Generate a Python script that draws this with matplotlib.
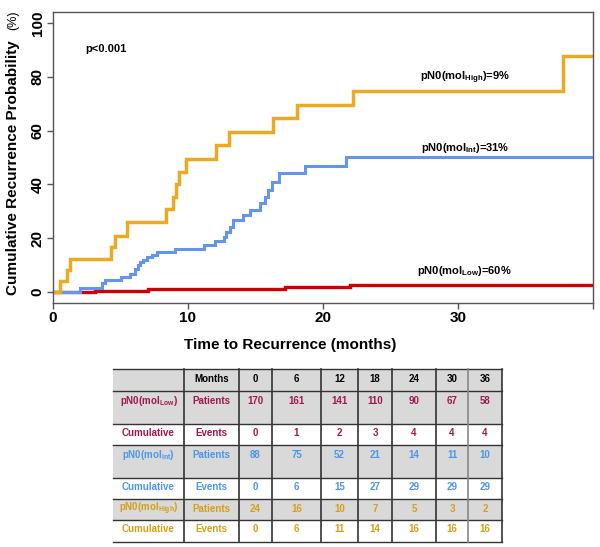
import numpy as np
import matplotlib.pyplot as plt
from matplotlib.patches import Rectangle

plt.rcParams.update({
    'font.family': ['Liberation Sans', 'DejaVu Sans'],
    'font.weight': 'bold',
    'mathtext.fontset': 'custom',
    'mathtext.rm': 'Liberation Sans',
    'axes.linewidth': 1.0,
})

# ---------- curve data (months, cumulative recurrence %) ----------
high_t = [0, 0.5, 1.0, 1.25, 4.3, 4.6, 5.5, 8.4, 8.9, 9.1, 9.35, 9.85,
          12.1, 13.0, 16.3, 18.1, 22.2, 37.8]
high_v = [0, 4.2, 8.3, 12.5, 16.7, 21.0, 26.0, 31.0, 35.5, 40.0, 44.5, 49.5,
          54.5, 59.5, 64.5, 69.5, 74.5, 87.5]

int_t = [0, 2.0, 3.6, 3.85, 5.0, 5.7, 6.07, 6.3, 6.45, 6.7, 6.95, 7.3, 7.7,
         9.0, 11.2, 12.0, 12.7, 12.85, 13.1, 13.35, 14.1, 14.6, 15.3, 15.7,
         15.95, 16.2, 16.75, 18.7, 21.7]
int_v = [0, 1.7, 3.4, 4.7, 5.7, 6.9, 8.8, 10.0, 11.2, 12.1, 13.1, 14.0, 15.0,
         16.2, 17.5, 19.0, 20.5, 22.3, 24.2, 26.7, 28.8, 30.6, 33.0, 35.3,
         37.8, 40.9, 44.2, 46.8, 50.3]

low_t = [0, 3.1, 7.0, 17.2, 22.0]
low_v = [0, 0.6, 1.2, 1.9, 2.7]

followup_end = 40

# ---------- risk table data ----------
months = [0, 6, 12, 18, 24, 30, 36]
low_patients = [170, 161, 141, 110, 90, 67, 58]
low_events = [0, 1, 2, 3, 4, 4, 4]
int_patients = [88, 75, 52, 21, 14, 11, 10]
int_events = [0, 6, 15, 27, 29, 29, 29]
high_patients = [24, 16, 10, 7, 5, 3, 2]
high_events = [0, 6, 11, 14, 16, 16, 16]

C_HIGH = '#EBAA22'
C_INT = '#6495ED'
C_LOW = '#CC0000'
T_LOW = '#A01850'
T_INT = '#4A97E8'
T_HIGH = '#D4A017'

W, H = 600, 547
fig = plt.figure(figsize=(W / 100, H / 100), dpi=100)

# ---------- KM plot ----------
ax = fig.add_axes([53 / W, 1 - 303 / H, 540 / W, 291 / H])


def km(t, v, color, lw):
    tt = np.append(t, followup_end)
    vv = np.append(v, v[-1])
    ax.step(tt, vv, where='post', color=color, lw=lw, solid_joinstyle='miter')


km(low_t, low_v, C_LOW, 2.4)
km(int_t, int_v, C_INT, 2.2)
km(high_t, high_v, C_HIGH, 2.5)

ax.set_xlim(0, 40)
ax.set_ylim(-4, 104)
ax.set_xticks([0, 10, 20, 30, 40])
ax.set_xticklabels(['0', '10', '20', '30', ''])
ax.set_yticks([0, 20, 40, 60, 80, 100])
for s in ax.spines.values():
    s.set_color('#555555')
ax.tick_params(length=4, width=1, color='#555555', labelsize=11, pad=2)
for lab in ax.get_yticklabels():
    lab.set_rotation(90)
    lab.set_va('center')
    lab.set_fontweight('bold')
for lab in ax.get_xticklabels():
    lab.set_fontweight('bold')

ax.text(2.4, 90.4, 'p<0.001', fontsize=8, va='center', ha='left')
ax.text(30.5, 79.6, r'pN0(mol$_{\mathrm{High}}$)=9%', fontsize=8, ha='center', va='center')
ax.text(30.5, 53.7, r'pN0(mol$_{\mathrm{Int}}$)=31%', fontsize=8, ha='center', va='center')
ax.text(30.5, 7.8, r'pN0(mol$_{\mathrm{Low}}$)=60%', fontsize=8, ha='center', va='center')

fig.text(13 / W, 1 - 168 / H, 'Cumulative Recurrence Probability', rotation=90,
         fontsize=11, ha='center', va='center')
fig.text(13 / W, 1 - 20 / H, '(%)', rotation=90, fontsize=9, fontweight='normal',
         ha='center', va='center')
fig.text(290 / W, 1 - 345 / H, 'Time to Recurrence (months)', fontsize=11,
         ha='center', va='center')

# ---------- risk table ----------
tx = fig.add_axes([0, 0, 1, 1], zorder=-1)
tx.set_xlim(0, W)
tx.set_ylim(H, 0)
tx.axis('off')

col_edges = [113, 184, 239, 272, 321, 358, 392, 436, 468, 502]
row_edges = [369, 391, 424, 445, 478, 499, 520, 542]

rows = [
    ('', 'Months', months, 'black', '#D9D9D9'),
    (r'pN0(mol$_{\mathrm{Low}}$)', 'Patients', low_patients, T_LOW, '#D9D9D9'),
    ('Cumulative', 'Events', low_events, T_LOW, 'white'),
    (r'pN0(mol$_{\mathrm{Int}}$)', 'Patients', int_patients, T_INT, '#D9D9D9'),
    ('Cumulative', 'Events', int_events, T_INT, 'white'),
    (r'pN0(mol$_{\mathrm{High}}$)', 'Patients', high_patients, T_HIGH, '#D9D9D9'),
    ('Cumulative', 'Events', high_events, T_HIGH, 'white'),
]

for i, (lab, sub, vals, col, fill) in enumerate(rows):
    y0, y1 = row_edges[i], row_edges[i + 1]
    tx.add_patch(Rectangle((col_edges[0], y0), col_edges[-1] - col_edges[0], y1 - y0,
                           facecolor=fill, edgecolor='none'))
    ty = y0 + 9.5
    cells = [lab, sub] + [str(v) for v in vals]
    for j, txt in enumerate(cells):
        xc = (col_edges[j] + col_edges[j + 1]) / 2
        tx.text(xc, ty, txt, color=col if i > 0 else 'black', fontsize=7,
                ha='center', va='center')

for y in row_edges:
    tx.plot([col_edges[0], col_edges[-1]], [y, y], color='#333333', lw=1)
for k, x in enumerate(col_edges[1:]):
    c = '#888888' if k == len(col_edges) - 3 else '#333333'
    tx.plot([x, x], [row_edges[0], row_edges[-1]], color=c, lw=1.2)

fig.savefig('out.png', dpi=100)
